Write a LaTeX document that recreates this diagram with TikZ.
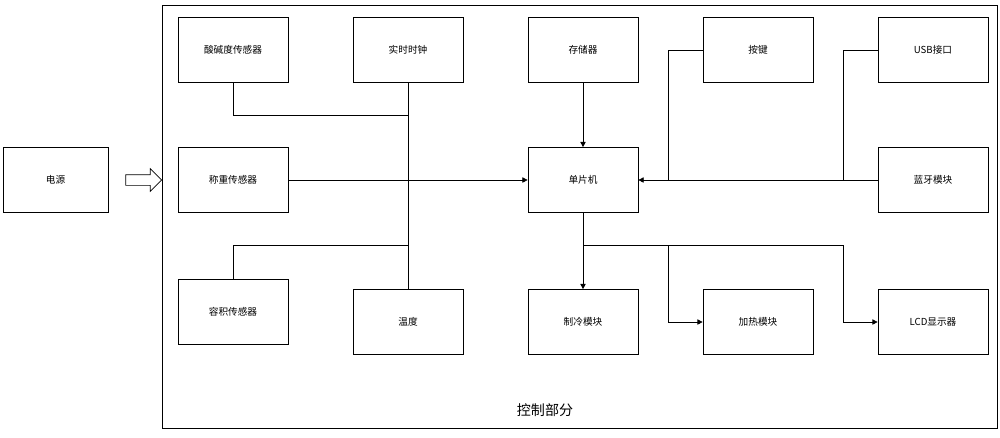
\documentclass[tikz,border=0pt]{standalone}
\usepackage{fontspec}
\setmainfont{Noto Sans CJK SC}
\usetikzlibrary{positioning,arrows.meta,shapes.arrows}
\begin{document}
\begin{tikzpicture}[x=0.02cm,y=-0.02cm,font=\fontsize{5.5}{7}\selectfont,
  box/.style={draw,fill=white,minimum width=2.2cm,minimum height=1.3cm,inner sep=0pt},
  link/.style={draw,thin},
  arr/.style={-{Triangle[length=3pt,width=3pt]},thin}]
        \useasboundingbox (0,0) rectangle (1000,437);
        \node[draw,minimum width=16.7cm,minimum height=8.46cm,inner sep=0pt] (ctrl) at (579.5,216.5) {};
        \node (ctrllabel) at (545,410) {\fontsize{8}{9}\selectfont 控制部分};
        
        \node[box,minimum width=2.1cm] (power) at (55.5,180) {电源};
        \node[single arrow,draw,minimum height=0.72cm,minimum width=0.44cm,single arrow head extend=0.12cm,inner xsep=0pt,inner ysep=0.1cm] (powarrow) at (141,180) {};
        
        \node[box] (ph) at (233,50) {酸碱度传感器};
        \node[box] (clock) at (408,50) {实时时钟};
        \node[box] (mem) at (583,50) {存储器};
        \node[box] (key) at (758,50) {按键};
        \node[box] (usb) at (933,50) {USB接口};
        
        \node[box] (weigh) at (233,180) {称重传感器};
        \node[box] (mcu) at (583,180) {单片机};
        \node[box] (bt) at (933,180) {蓝牙模块};
        
        \node[box] (vol) at (233,312) {容积传感器};
        \node[box] (temp) at (408,322) {温度};
        \node[box] (cool) at (583,322) {制冷模块};
        \node[box] (heat) at (758,322) {加热模块};
        \node[box] (lcd) at (933,322) {LCD显示器};
        
        \coordinate (phbus) at (408,115);
        \coordinate (volbus) at (408,245);
        \coordinate (keybus) at (668,180);
        \coordinate (usbbus) at (843,180);
        \coordinate (outbus) at (583,245);
        \coordinate (heatbus) at (668,245);
        \coordinate (lcdbus) at (843,245);
        
        \draw[link] (clock) -- (temp);
        \draw[link] (ph) |- (phbus);
        \draw[link] (vol) |- (volbus);
        \draw[arr] (weigh) -- (mcu);
        \draw[arr] (mem) -- (mcu);
        \draw[link] (key.west) -| (keybus);
        \draw[link] (usb.west) -| (usbbus);
        \draw[arr] (bt) -- (mcu);
        \draw[arr] (mcu) -- (cool);
        \draw[link] (outbus) -- (lcdbus);
        \draw[arr] (heatbus) |- (heat.west);
        \draw[arr] (lcdbus) |- (lcd.west);
    \end{tikzpicture}
\end{document}
